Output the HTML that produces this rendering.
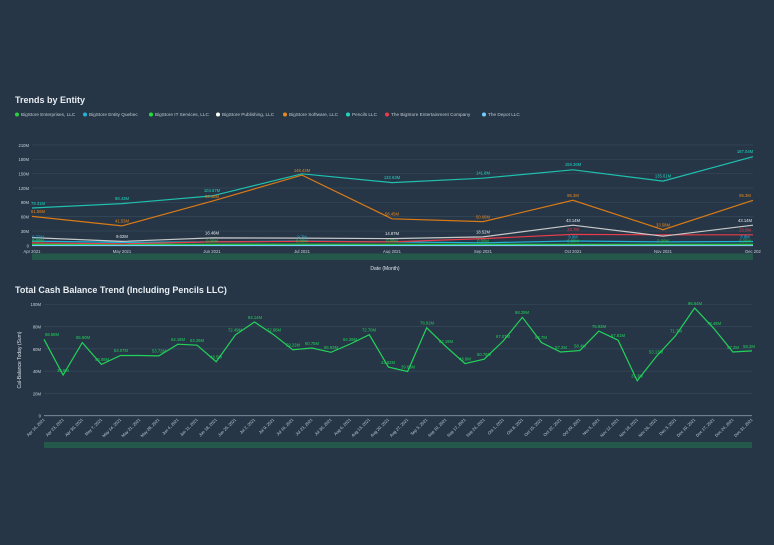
<!DOCTYPE html><html><head><meta charset="utf-8"><style>
body{margin:0;background:#263646;}
svg{display:block;font-family:"Liberation Sans",sans-serif;}
</style></head><body>
<svg width="774" height="545" viewBox="0 0 774 545">
<rect width="774" height="545" fill="#263646"/>
<text x="15" y="103" font-size="9" font-weight="bold" fill="#e8edf2">Trends by Entity</text>
<g font-size="4.7" fill="#c0c8d0">
<circle cx="17" cy="114.5" r="2" fill="#2ecc40"/><text x="21" y="116">BigStore Enterprises, LLC</text>
<circle cx="85" cy="114.5" r="2" fill="#1fb4d8"/><text x="89" y="116">BigStore Entity Quebec</text>
<circle cx="151" cy="114.5" r="2" fill="#22e03a"/><text x="155" y="116">BigStore IT Services, LLC</text>
<circle cx="218" cy="114.5" r="2" fill="#ffffff"/><text x="222" y="116">BigStore Publishing, LLC</text>
<circle cx="285" cy="114.5" r="2" fill="#e8891e"/><text x="289" y="116">BigStore Software, LLC</text>
<circle cx="348" cy="114.5" r="2" fill="#1fd6c0"/><text x="352" y="116">Pencils LLC</text>
<circle cx="387" cy="114.5" r="2" fill="#e83c4a"/><text x="391" y="116">The BigStore Entertainment Company</text>
<circle cx="484" cy="114.5" r="2" fill="#6fd0ff"/><text x="488" y="116">The Depot LLC</text>
</g>
<g stroke="#34485a" stroke-width="0.7">
<line x1="32" x2="753" y1="145" y2="145"/><line x1="32" x2="753" y1="159.3" y2="159.3"/><line x1="32" x2="753" y1="173.7" y2="173.7"/><line x1="32" x2="753" y1="188" y2="188"/><line x1="32" x2="753" y1="202.3" y2="202.3"/><line x1="32" x2="753" y1="216.6" y2="216.6"/><line x1="32" x2="753" y1="231" y2="231"/>
</g>
<line x1="32" x2="753" y1="245.7" y2="245.7" stroke="#8a96a2" stroke-width="0.8"/>
<g font-size="4.2" fill="#c8d0d8" text-anchor="end">
<text x="29" y="147">210M</text><text x="29" y="161">180M</text><text x="29" y="175.5">150M</text><text x="29" y="190">120M</text><text x="29" y="204">90M</text><text x="29" y="218.5">60M</text><text x="29" y="233">30M</text><text x="29" y="247.5">0</text>
</g>
<g font-size="4.2" fill="#c8d0d8" text-anchor="middle">
<text x="32" y="253">Apr 2021</text><text x="122" y="253">May 2021</text><text x="212" y="253">Jun 2021</text><text x="302" y="253">Jul 2021</text><text x="392" y="253">Aug 2021</text><text x="483" y="253">Sep 2021</text><text x="573" y="253">Oct 2021</text><text x="663" y="253">Nov 2021</text><text x="753" y="253">Dec 202</text>
</g>
<rect x="32" y="253.5" width="721" height="6.5" fill="#24584a"/>
<text x="385" y="270" font-size="5" fill="#dde3e8" text-anchor="middle">Date (Month)</text>
<g fill="none" stroke-width="1.2">
<polyline stroke="#6fd0ff" points="32,245.4 122,245.4 212,245.4 302,245.4 392,245.4 483,245.3 573,245.2 663,245.2 753,245.2"/>
<polyline stroke="#2ecc40" points="32,244.3 122,244.3 212,244.3 302,244.2 392,244.3 483,244.3 573,244.3 663,244.3 753,244.3"/>
<polyline stroke="#1fb4d8" points="32,241.1 122,242.4 212,241.9 302,241.1 392,241.9 483,242.8 573,241 663,241.9 753,241.5"/>
<polyline stroke="#e83c4a" points="32,242.8 122,243.8 212,241.9 302,241.4 392,241.9 483,238.6 573,234.4 663,234.8 753,234.8"/>
<polyline stroke="#c8c8c8" points="32,237.6 122,241.4 212,237.9 302,238.1 392,238.6 483,236.9 573,225.2 663,236.2 753,225.2"/>
<polyline stroke="#d97a17" points="32,216.4 122,225.9 212,201.2 302,175.1 392,218.8 483,221.6 573,200.3 663,229.7 753,200.3"/>
<polyline stroke="#1fbfae" points="32,208 122,203.6 212,195.9 302,173.8 392,182.6 483,178.2 573,169.8 663,181.1 753,156.7"/>
</g>
<g font-size="4.2" text-anchor="middle">
<g fill="#1fd6c0"><text x="38" y="205">79.31M</text><text x="122" y="200">88.43M</text><text x="212" y="192">104.67M</text><text x="392" y="179">132.63M</text><text x="483" y="174.5">141.8M</text><text x="573" y="166">159.36M</text><text x="663" y="177.5">135.61M</text><text x="745" y="153">187.04M</text></g>
<g fill="#e8891e"><text x="38" y="213">61.56M</text><text x="122" y="222.5">41.53M</text><text x="212" y="198">93.48M</text><text x="302" y="172">148.42M</text><text x="392" y="215.5">56.45M</text><text x="483" y="218.5">50.66M</text><text x="573" y="197">95.3M</text><text x="663" y="226.5">33.58M</text><text x="745" y="197">95.3M</text></g>
<g fill="#e8edf2"><text x="122" y="238">9.02M</text><text x="212" y="234.5">16.46M</text><text x="392" y="235">14.87M</text><text x="483" y="233.5">18.52M</text><text x="573" y="222">43.14M</text><text x="745" y="222">43.14M</text></g>
<g fill="#e83c4a"><text x="573" y="231">23.7M</text><text x="745" y="231.5">23.0M</text></g>
<g fill="#1fb4d8"><text x="38" y="238.5">9.72M</text><text x="302" y="238.5">9.7M</text><text x="573" y="238.5">9.9M</text><text x="745" y="238.5">8.8M</text></g>
<g fill="#2ecc40"><text x="38" y="242">0.00M</text><text x="212" y="242.5">0.00M</text><text x="302" y="242.5">0.00M</text><text x="392" y="242.5">0.00M</text><text x="483" y="242.5">0.00M</text><text x="573" y="242.5">0.00M</text><text x="663" y="242.5">0.00M</text><text x="745" y="242.5">0.00M</text></g>
</g>

<text x="15" y="293" font-size="9" font-weight="bold" fill="#e8edf2">Total Cash Balance Trend (Including Pencils LLC)</text>
<g stroke="#34485a" stroke-width="0.7">
<line x1="44" x2="752" y1="304.3" y2="304.3"/><line x1="44" x2="752" y1="326.6" y2="326.6"/><line x1="44" x2="752" y1="348.9" y2="348.9"/><line x1="44" x2="752" y1="371.1" y2="371.1"/><line x1="44" x2="752" y1="393.4" y2="393.4"/>
</g>
<line x1="44" x2="752" y1="415.7" y2="415.7" stroke="#8a96a2" stroke-width="0.9"/>
<g font-size="4.2" fill="#c8d0d8" text-anchor="end">
<text x="41" y="306">100M</text><text x="41" y="328.5">80M</text><text x="41" y="351">60M</text><text x="41" y="373">40M</text><text x="41" y="395.5">20M</text><text x="41" y="417.5">0</text>
</g>
<text transform="translate(21,360) rotate(-90)" font-size="5" fill="#dde3e8" text-anchor="middle">Cal-Balance Today (Sum)</text>
<polyline fill="none" stroke="#22d35a" stroke-width="1.2" points="44,339.3 63.1,375 82.3,342.6 101.4,364.4 120.5,355.5 139.7,355.5 158.8,355.9 177.9,344.2 197.1,345.2 216.2,361.7 235.4,334.9 254.5,322 273.6,334.7 292.8,349.7 311.9,348 331,352.3 350.2,344 369.3,334.7 388.4,367.1 407.6,371.5 426.7,327.8 445.8,346.4 465,363.6 484.1,359.2 503.2,341 522.4,317.3 541.5,342.5 560.6,352 579.8,350.6 598.9,331.1 618.1,340.2 637.2,380.8 656.3,356.5 675.5,335.8 694.6,308 713.7,328.3 732.9,352 752,350.9"/>
<g font-size="4.2" fill="#22d35a" text-anchor="middle">
<text x="52" y="336">68.58M</text><text x="63" y="372">36.5M</text><text x="83" y="339">65.60M</text><text x="102" y="361">46.08M</text><text x="121" y="352">54.07M</text><text x="159" y="352.5">53.72M</text><text x="178" y="341">64.18M</text><text x="197" y="342">63.26M</text><text x="216" y="358.5">48.5M</text><text x="235" y="331.5">72.49M</text><text x="255" y="319">84.14M</text><text x="274" y="331.5">72.68M</text><text x="293" y="346.5">59.22M</text><text x="312" y="345">60.75M</text><text x="331" y="349">56.92M</text><text x="350" y="341">64.39M</text><text x="369" y="331.5">72.70M</text><text x="388" y="364">43.62M</text><text x="408" y="368.5">39.68M</text><text x="427" y="324.5">78.91M</text><text x="446" y="343">62.19M</text><text x="465" y="360.5">46.8M</text><text x="484" y="356">50.76M</text><text x="503" y="338">67.07M</text><text x="522" y="314">88.29M</text><text x="541" y="339">65.7M</text><text x="561" y="349">57.2M</text><text x="580" y="347.5">58.4M</text><text x="599" y="328">75.93M</text><text x="618" y="337">67.81M</text><text x="637" y="377.5">31.3M</text><text x="656" y="353.5">53.13M</text><text x="676" y="332.5">71.7M</text><text x="695" y="305">96.64M</text><text x="714" y="325">78.48M</text><text x="733" y="349">57.2M</text><text x="749" y="348">58.2M</text>
</g>
<g font-size="4.1" fill="#c8d0d8" text-anchor="end">
<text transform="translate(45,420) rotate(-45)">Apr 16, 2021</text><text transform="translate(64.1,420) rotate(-45)">Apr 23, 2021</text><text transform="translate(83.3,420) rotate(-45)">Apr 30, 2021</text><text transform="translate(102.4,420) rotate(-45)">May 7, 2021</text><text transform="translate(121.5,420) rotate(-45)">May 14, 2021</text><text transform="translate(140.7,420) rotate(-45)">May 21, 2021</text><text transform="translate(159.8,420) rotate(-45)">May 28, 2021</text><text transform="translate(178.9,420) rotate(-45)">Jun 4, 2021</text><text transform="translate(198.1,420) rotate(-45)">Jun 11, 2021</text><text transform="translate(217.2,420) rotate(-45)">Jun 18, 2021</text><text transform="translate(236.4,420) rotate(-45)">Jun 25, 2021</text><text transform="translate(255.5,420) rotate(-45)">Jul 2, 2021</text><text transform="translate(274.6,420) rotate(-45)">Jul 9, 2021</text><text transform="translate(293.8,420) rotate(-45)">Jul 16, 2021</text><text transform="translate(312.9,420) rotate(-45)">Jul 23, 2021</text><text transform="translate(332,420) rotate(-45)">Jul 30, 2021</text><text transform="translate(351.2,420) rotate(-45)">Aug 6, 2021</text><text transform="translate(370.3,420) rotate(-45)">Aug 13, 2021</text><text transform="translate(389.4,420) rotate(-45)">Aug 20, 2021</text><text transform="translate(408.6,420) rotate(-45)">Aug 27, 2021</text><text transform="translate(427.7,420) rotate(-45)">Sep 3, 2021</text><text transform="translate(446.8,420) rotate(-45)">Sep 10, 2021</text><text transform="translate(466,420) rotate(-45)">Sep 17, 2021</text><text transform="translate(485.1,420) rotate(-45)">Sep 24, 2021</text><text transform="translate(504.2,420) rotate(-45)">Oct 1, 2021</text><text transform="translate(523.4,420) rotate(-45)">Oct 8, 2021</text><text transform="translate(542.5,420) rotate(-45)">Oct 15, 2021</text><text transform="translate(561.6,420) rotate(-45)">Oct 22, 2021</text><text transform="translate(580.8,420) rotate(-45)">Oct 29, 2021</text><text transform="translate(599.9,420) rotate(-45)">Nov 5, 2021</text><text transform="translate(619.1,420) rotate(-45)">Nov 12, 2021</text><text transform="translate(638.2,420) rotate(-45)">Nov 19, 2021</text><text transform="translate(657.3,420) rotate(-45)">Nov 26, 2021</text><text transform="translate(676.5,420) rotate(-45)">Dec 3, 2021</text><text transform="translate(695.6,420) rotate(-45)">Dec 10, 2021</text><text transform="translate(714.7,420) rotate(-45)">Dec 17, 2021</text><text transform="translate(733.9,420) rotate(-45)">Dec 24, 2021</text><text transform="translate(753,420) rotate(-45)">Dec 31, 2021</text>
</g>
<rect x="44" y="442" width="708" height="6" fill="#24584a"/>
</svg>
</body></html>
